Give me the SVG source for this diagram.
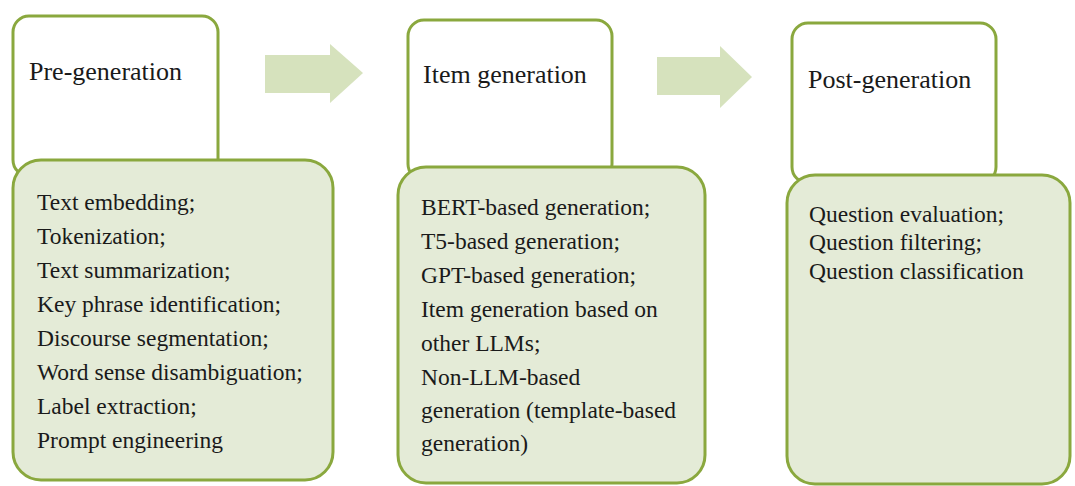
<svg xmlns="http://www.w3.org/2000/svg" width="1075" height="486" viewBox="0 0 1075 486">
<defs>
<style>
.head{fill:#ffffff;stroke:#8aa83e;stroke-width:3}
.body{fill:#e4ebd7;stroke:#8aa83e;stroke-width:3}
.title{font-family:"Liberation Serif","Times New Roman",serif;font-size:26px;fill:#1a1a1a}
.txt{font-family:"Liberation Serif","Times New Roman",serif;font-size:23.5px;fill:#1a1a1a}
.arrow{fill:#d6e2bd}
</style>
</defs>
<rect width="1075" height="486" fill="#ffffff"/>
<g id="connectors">
<polygon class="arrow" points="265,55 330,55 330,44 363,73 330,103 330,93 265,93"/>
<polygon class="arrow" points="657,57 720,57 720,46 752,77 720,108 720,95 657,95"/>
</g>
<g id="pre-generation">
<rect class="head" x="13" y="16" width="205" height="160" rx="16"/>
<rect class="body" x="13" y="160" width="320" height="320" rx="28"/>
<text class="title" x="29" y="80">Pre-generation</text>
<text class="txt" x="37" y="210">Text embedding;</text>
<text class="txt" x="37" y="244">Tokenization;</text>
<text class="txt" x="37" y="278">Text summarization;</text>
<text class="txt" x="37" y="312">Key phrase identification;</text>
<text class="txt" x="37" y="346">Discourse segmentation;</text>
<text class="txt" x="37" y="380">Word sense disambiguation;</text>
<text class="txt" x="37" y="414">Label extraction;</text>
<text class="txt" x="37" y="448">Prompt engineering</text>
</g>
<g id="item-generation">
<rect class="head" x="408" y="20" width="204" height="160" rx="16"/>
<rect class="body" x="398" y="167" width="307" height="316" rx="28"/>
<text class="title" x="423" y="83">Item generation</text>
<text class="txt" x="421" y="215">BERT-based generation;</text>
<text class="txt" x="421" y="249">T5-based generation;</text>
<text class="txt" x="421" y="283">GPT-based generation;</text>
<text class="txt" x="421" y="317">Item generation based on</text>
<text class="txt" x="421" y="351">other LLMs;</text>
<text class="txt" x="421" y="385">Non-LLM-based</text>
<text class="txt" x="421" y="418">generation (template-based</text>
<text class="txt" x="421" y="451">generation)</text>
</g>
<g id="post-generation">
<rect class="head" x="792" y="23" width="204" height="160" rx="16"/>
<rect class="body" x="787" y="175" width="283" height="309" rx="28"/>
<text class="title" x="808" y="88">Post-generation</text>
<text class="txt" x="809" y="222">Question evaluation;</text>
<text class="txt" x="809" y="250">Question filtering;</text>
<text class="txt" x="809" y="279">Question classification</text>
</g>
</svg>
